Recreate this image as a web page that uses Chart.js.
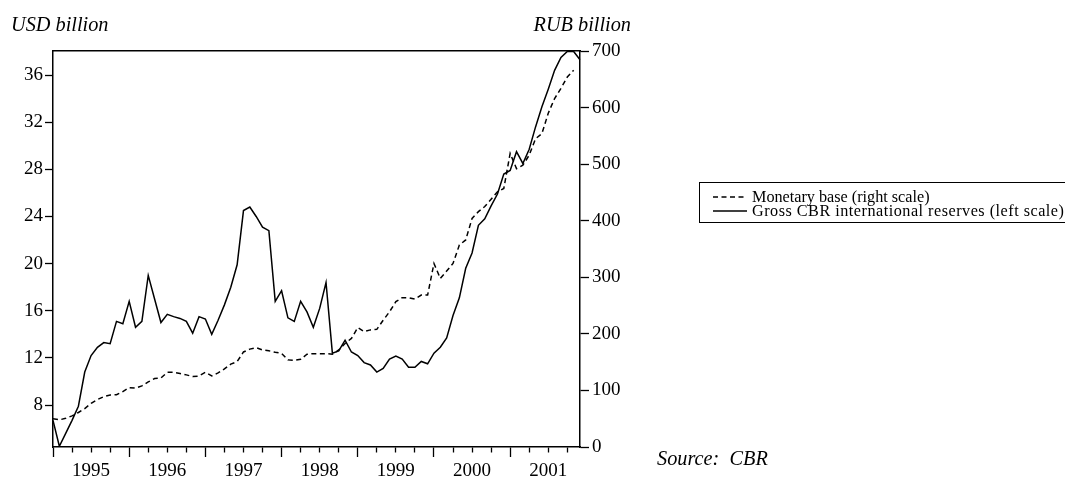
<!DOCTYPE html>
<html>
<head>
<meta charset="utf-8">
<script src="https://cdn.jsdelivr.net/npm/chart.js@4/dist/chart.umd.min.js"></script>
<style>
  html, body { margin: 0; padding: 0; background: #fff; overflow: hidden; }
  #wrap { position: relative; width: 1065px; height: 477px; overflow: hidden; }
  .note { position: absolute; font-family: 'Liberation Serif', 'Times New Roman', serif; font-style: italic; font-size: 20.3px; line-height: 20px; color: #000; white-space: pre; }
  #legend { position: absolute; left: 699px; top: 182px; width: 420px; height: 39px; border: 1.5px solid #000; font-family: 'Liberation Serif', 'Times New Roman', serif; font-size: 16.2px; line-height: 14.5px; color: #000; white-space: nowrap; }
  #legend .row { position: absolute; left: 13px; height: 15px; }
  #legend svg { vertical-align: middle; margin-right: 5px; }
  #legend span { vertical-align: middle; }
</style>
</head>
<body>
<div id="wrap">
  <canvas id="chart" width="1065" height="477"></canvas>
  <div class="note" style="left:11px; top:14px;">USD billion</div>
  <div class="note" style="right:434px; top:14px; text-align:right;">RUB billion</div>
  <div class="note" style="left:657px; top:448px;">Source:  CBR</div>
  <div id="legend">
    <div class="row" style="top:6px;"><svg width="34" height="4"><line x1="0" y1="2" x2="34" y2="2" stroke="#000" stroke-width="1.3" stroke-dasharray="5,3.5"/></svg><span>Monetary base (right scale)</span></div>
    <div class="row" style="top:20px;"><svg width="34" height="4"><line x1="0" y1="2" x2="34" y2="2" stroke="#000" stroke-width="1.3"/></svg><span style="letter-spacing:0.5px;">Gross CBR international reserves (left scale)</span></div>
  </div>
</div>
<script>
// Years shown on the axis, data is monthly Jan 1995 - Dec 2001
const years = ['1995', '1996', '1997', '1998', '1999', '2000', '2001'];
const months = [];
years.forEach(y => {
    for (let m = 1; m <= 12; m++) months.push(y + 'M' + (m < 10 ? '0' + m : m));
});

// Gross CBR international reserves, USD billion (left scale)
const reserves = [
    6.7, 4.5, 5.6, 6.7, 7.9, 10.8, 12.2, 12.9, 13.3, 13.2, 15.1, 14.9,
    16.8, 14.6, 15.1, 19.0, 17.0, 15.0, 15.7, 15.5, 15.35, 15.1, 14.1, 15.5,
    15.3, 14.0, 15.2, 16.5, 18.0, 19.9, 24.5, 24.8, 24.0, 23.1, 22.8, 16.8,
    17.7, 15.4, 15.1, 16.8, 15.9, 14.6, 16.2, 18.4, 12.4, 12.6, 13.5, 12.5,
    12.2, 11.6, 11.4, 10.8, 11.1, 11.9, 12.15, 11.9, 11.2, 11.2, 11.7, 11.5,
    12.4, 12.9, 13.7, 15.6, 17.1, 19.6, 20.9, 23.25, 23.8, 24.9, 25.9, 27.6,
    27.9, 29.5, 28.5, 29.7, 31.6, 33.3, 34.8, 36.4, 37.5, 38.0, 38.0, 37.3
];

// Monetary base, RUB billion (right scale)
const monetaryBase = [
    50, 48, 50.7, 55, 61, 68, 77, 84, 89, 92, 92.5, 98,
    105, 104, 108, 115, 121, 122, 132, 132, 130, 127.5, 124.5, 125.5,
    132, 125.5, 131, 138, 146.5, 151, 168, 173, 175.5, 171.5, 170, 167.5,
    165.5, 154, 153, 155, 164, 165, 165, 165, 164, 171.5, 183, 192,
    211, 204, 207, 208, 224, 239, 257, 264, 264, 261.5, 268.5, 268.5,
    324.5, 298, 311, 324.5, 357, 366, 404, 416, 425, 438, 451, 457,
    519, 492, 498, 516, 545, 554, 590, 616, 634, 654, 666, null
];

const leftTicks = [8, 12, 16, 20, 24, 28, 32, 36];
const rightTicks = [0, 100, 200, 300, 400, 500, 600, 700];

const font = { family: "'Liberation Serif', 'Times New Roman', serif", size: 19 };

new Chart(document.getElementById('chart'), {
    type: 'line',
    data: {
        labels: months,
        datasets: [
            {
                label: 'Monetary base (right scale)',
                data: monetaryBase,
                yAxisID: 'y1',
                borderColor: '#000',
                borderWidth: 1.5,
                borderDash: [5, 3.5],
                pointRadius: 0,
                tension: 0,
                fill: false
            },
            {
                label: 'Gross CBR international reserves (left scale)',
                data: reserves,
                yAxisID: 'y',
                borderColor: '#000',
                borderWidth: 1.5,
                pointRadius: 0,
                tension: 0,
                fill: false
            }
        ]
    },
    options: {
        responsive: false,
        animation: false,
        layout: { padding: { top: 51, left: 0, right: 425, bottom: 0 } },
        plugins: { legend: { display: false }, tooltip: { enabled: false } },
        scales: {
            x: {
                type: 'category',
                position: 'bottom',
                offset: false,
                border: { display: true, color: '#000', width: 1.5 },
                grid: {
                    drawOnChartArea: false,
                    drawTicks: true,
                    tickLength: 10,
                    tickWidth: 1.3,
                    offset: false,
                    // year ticks long, quarter ticks short
                    tickColor: ctx => ctx.index % 3 === 0 ? '#000' : 'rgba(0,0,0,0)',
                    tickBorderDash: ctx => ctx.index % 12 === 0 ? [] : [5, 30]
                },
                ticks: {
                    autoSkip: false,
                    maxRotation: 0,
                    padding: 3,
                    color: '#000',
                    font: font,
                    callback: (v, i) => i % 12 === 6 ? years[Math.floor(i / 12)] : ''
                },
                afterFit: s => { s.height = 30; }
            },
            xTop: {
                type: 'category',
                position: 'top',
                offset: false,
                border: { display: true, color: '#000', width: 1.5 },
                grid: { drawOnChartArea: false, drawTicks: false },
                ticks: { display: false },
                afterFit: s => { s.height = 0; }
            },
            y: {
                position: 'left',
                min: 4.44,
                max: 38.04,
                border: { display: true, color: '#000', width: 1.5 },
                grid: { drawOnChartArea: false, tickLength: 8, tickColor: '#000', tickWidth: 1.3 },
                ticks: { color: '#000', font: font, padding: 2 },
                afterBuildTicks: s => { s.ticks = leftTicks.map(v => ({ value: v })); },
                afterFit: s => { s.width = 53; }
            },
            y1: {
                position: 'right',
                min: 0,
                max: 700,
                border: { display: true, color: '#000', width: 1.5 },
                grid: { drawOnChartArea: false, tickLength: 9, tickColor: '#000', tickWidth: 1.3 },
                ticks: { color: '#000', font: font, padding: 3 },
                afterBuildTicks: s => { s.ticks = rightTicks.map(v => ({ value: v })); },
                afterFit: s => { s.width = 60; }
            }
        }
    }
});
</script>
</body>
</html>
